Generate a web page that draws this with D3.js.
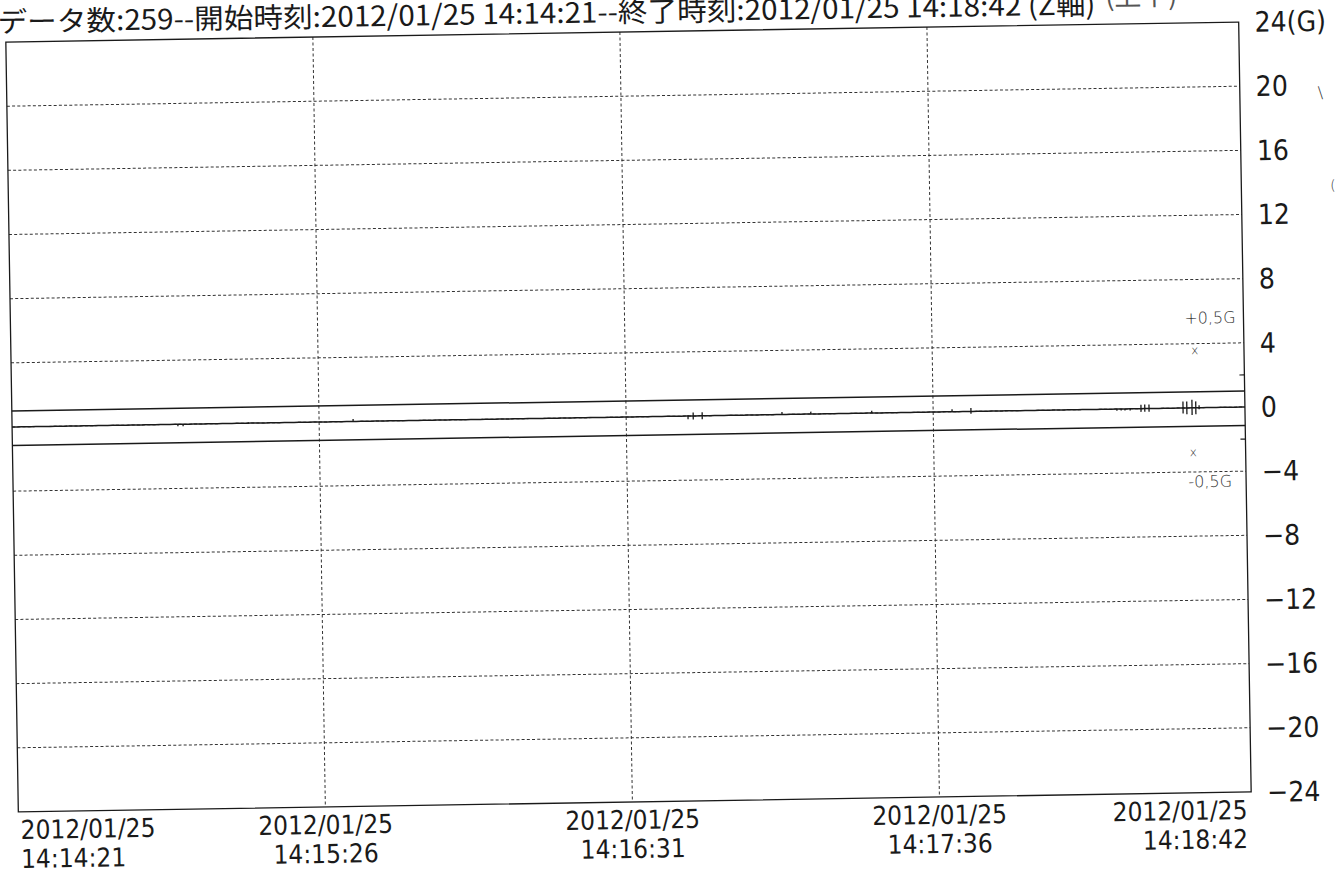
<!DOCTYPE html>
<html>
<head>
<meta charset="utf-8">
<script src="https://cdn.jsdelivr.net/npm/d3@7"></script>
<style>
  html, body { margin: 0; padding: 0; background: #ffffff; }
  svg { display: block; }
</style>
</head>
<body>
<svg id="chart" width="1338" height="874"></svg>
<script>
// ---------------- DATA ----------------
const titleText = "データ数:259--開始時刻:2012/01/25 14:14:21--終了時刻:2012/01/25 14:18:42 (Z軸)";
const titleNote = "(上下)";
const startTime = "2012-01-25T14:14:21";
const endTime = "2012-01-25T14:18:42";

const yTickValues = [24, 20, 16, 12, 8, 4, 0, -4, -8, -12, -16, -20, -24];
const yTickLabels = ["24(G)", "20", "16", "12", "8", "4", "0", "\u22124", "\u22128", "\u221212", "\u221216", "\u221220", "\u221224"];

const xTickSeconds = [0, 65, 130, 195, 261];
const xTickDates = ["2012/01/25", "2012/01/25", "2012/01/25", "2012/01/25", "2012/01/25"];
const xTickTimes = ["14:14:21", "14:15:26", "14:16:31", "14:17:36", "14:18:42"];

// Z-axis acceleration samples (G), 259 samples
const zValues = [
  0,0,0,0,0,0,0,0,0,0,0,0,0,0,0,0,0,0,0,0,
  0,0,0,0,0,0,0,0,0,0,0,0,0,0,0,0,0,0,0,0,
  0,0,0,0,0,0,0,0,0,0,0,0,0,0,0,0,0,0,0,0,
  0,0,0,0,0,0,0,0,0,0,0,0,0,0,0,0,0,0,0,0,
  0,0,0,0,0,0,0,0,0,0,0,0,0,0,0,0,0,0,0,0,
  0,0,0,0,0,0,0,0,0,0,0,0,0,0,0,0,0,0,0,0,
  0,0,0,0,0,0,0,0,0,0,0,0,0,0,0,0,0,0,0,0,
  0,0,0,0,0,0,0,0,0,0,0,0,0,0,0,0,0,0,0,0,
  0,0,0,0,0,0,0,0,0,0,0,0,0,0,0,0,0,0,0,0,
  0,0,0,0,0,0,0,0,0,0,0,0,0,0,0,0,0,0,0,0,
  0,0,0,0,0,0,0,0,0,0,0,0,0,0,0,0,0,0,0,0,
  0,0,0,0,0,0,0,0,0,0,0,0,0,0,0,0,0,0,0,0,
  0,0,0,0,0,0,0,0,0,0,0,0,0,0,0,0,0,0,0
];

// small vibration spikes (seconds from start, max G, min G)
const spikeSeconds = [35.1, 36.2, 50.0, 72.2, 143.1, 144.2, 146.1, 163.0, 169.1, 182.0, 199.0, 203.0, 233.9, 234.8, 235.6, 236.7, 239.0, 239.8, 240.7, 247.9, 248.7, 249.8, 250.6, 251.3];
const spikeMax = [0, 0, 0.05, 0.15, 0.05, 0.22, 0.22, 0.15, 0.15, 0.15, 0.15, 0.22, 0, 0, 0, 0, 0.25, 0.25, 0.25, 0.4, 0.4, 0.5, 0.4, 0.15];
const spikeMin = [-0.12, -0.12, -0.05, 0, -0.2, -0.22, -0.22, 0, 0, 0, 0, -0.15, -0.1, -0.1, -0.1, -0.1, -0.2, -0.2, -0.2, -0.35, -0.4, -0.45, -0.4, -0.1];

// limit lines (G)
const limitValues = [1.0, -1.15];

// handwritten notes (seconds from start, G, text, size)
const noteSeconds = [253.9, 250.6, 249.9, 253.4, 277.9, 280.4];
const noteValues = [5.6, 3.6, -2.75, -4.6, 19.5, 13.75];
const noteTexts = ["+0,5G", "x", "x", "-0,5G", "\u2216", "("];
const noteSizes = [16, 12, 12, 16, 16, 14];

// ---------------- LAYOUT ----------------
const L = 12, R = 1245, T = 32, B = 802;
const rotCx = 628, rotCy = 417, rotAngle = -0.93;
const labelFont = "'Liberation Sans Narrow', 'DejaVu Sans Condensed', 'Liberation Sans', sans-serif";
const ink = "#1a1a1a";

const svg = d3.select("#chart");
svg.append("rect").attr("width", 1338).attr("height", 874).attr("fill", "#ffffff");
const g = svg.append("g").attr("transform", `rotate(${rotAngle}, ${rotCx}, ${rotCy})`);

const t0 = new Date(startTime), t1 = new Date(endTime);
const secToDate = s => new Date(t0.getTime() + s * 1000);
const totalSec = (t1 - t0) / 1000;

const x = d3.scaleTime().domain([t0, t1]).range([L, R]);
const y = d3.scaleLinear().domain([-24, 24]).range([B, T]);

// horizontal dashed grid
g.append("g").selectAll("line").data(yTickValues.filter(v => v !== 24 && v !== -24)).join("line")
  .attr("x1", L).attr("x2", R)
  .attr("y1", d => y(d)).attr("y2", d => y(d))
  .attr("stroke", "#333").attr("stroke-width", 1)
  .attr("stroke-dasharray", "3,2.2");

// vertical dashed grid
g.append("g").selectAll("line").data(xTickSeconds.slice(1, -1)).join("line")
  .attr("x1", d => x(secToDate(d))).attr("x2", d => x(secToDate(d)))
  .attr("y1", T).attr("y2", B)
  .attr("stroke", "#333").attr("stroke-width", 1)
  .attr("stroke-dasharray", "3,2.5");

// frame
g.append("rect").attr("x", L).attr("y", T).attr("width", R - L).attr("height", B - T)
  .attr("fill", "none").attr("stroke", ink).attr("stroke-width", 1.3);

// small ticks on right axis at +-2
g.append("g").selectAll("line").data([2, -2]).join("line")
  .attr("x1", R - 5).attr("x2", R)
  .attr("y1", d => y(d)).attr("y2", d => y(d))
  .attr("stroke", ink).attr("stroke-width", 1.2);

// y labels
g.append("g").selectAll("text").data(yTickValues).join("text")
  .attr("x", R + 16).attr("y", d => y(d))
  .attr("dy", "0.36em")
  .attr("font-family", labelFont).attr("font-size", 28)
  .attr("fill", ink)
  .text((d, i) => yTickLabels[i]);

// x labels
const xl = g.append("g").selectAll("g").data(xTickSeconds).join("g");
xl.each(function (d, i) {
  const n = xTickSeconds.length;
  let xp = x(secToDate(d)), anchor = "middle";
  if (i === 0) { xp = L + 2; anchor = "start"; }
  if (i === n - 1) { xp = R - 4; anchor = "end"; }
  const sel = d3.select(this);
  sel.append("text").attr("x", xp).attr("y", B + 27).attr("text-anchor", anchor)
    .attr("font-family", labelFont).attr("font-size", 26).attr("fill", ink).text(xTickDates[i]);
  sel.append("text").attr("x", xp).attr("y", B + 56).attr("text-anchor", anchor)
    .attr("font-family", labelFont).attr("font-size", 26).attr("fill", ink).text(xTickTimes[i]);
});

// limit lines
g.append("g").selectAll("line").data(limitValues).join("line")
  .attr("x1", L).attr("x2", R)
  .attr("y1", d => y(d)).attr("y2", d => y(d))
  .attr("stroke", ink).attr("stroke-width", 1.5);

// data line
const line = d3.line()
  .x((d, i) => x(secToDate(i * totalSec / (zValues.length - 1))))
  .y(d => y(d));
g.append("path").datum(zValues).attr("d", line)
  .attr("fill", "none").attr("stroke", ink).attr("stroke-width", 1.5);

// spikes
g.append("g").selectAll("line").data(spikeSeconds).join("line")
  .attr("x1", d => x(secToDate(d))).attr("x2", d => x(secToDate(d)))
  .attr("y1", (d, i) => y(spikeMax[i])).attr("y2", (d, i) => y(spikeMin[i]))
  .attr("stroke", ink).attr("stroke-width", 1.3);

// notes
g.append("g").selectAll("text").data(noteSeconds).join("text")
  .attr("x", d => x(secToDate(d))).attr("y", (d, i) => y(noteValues[i]))
  .attr("dy", "0.35em").attr("text-anchor", "middle")
  .attr("font-family", "'DejaVu Sans', sans-serif")
  .attr("font-size", (d, i) => noteSizes[i])
  .attr("fill", "#333").attr("font-weight", 300)
  .text((d, i) => noteTexts[i]);

// title
g.append("text").attr("x", 4).attr("y", T - 10)
  .attr("font-family", "'Noto Sans CJK JP', sans-serif").attr("font-size", 28)
  .attr("fill", ink)
  .attr("textLength", 1098).attr("lengthAdjust", "spacingAndGlyphs")
  .text(titleText);
g.append("text").attr("x", 1112).attr("y", T - 18)
  .attr("font-family", "'Noto Sans CJK JP', sans-serif").attr("font-size", 26)
  .attr("fill", "#555")
  .attr("textLength", 72).attr("lengthAdjust", "spacingAndGlyphs")
  .text(titleNote);
</script>
</body>
</html>
